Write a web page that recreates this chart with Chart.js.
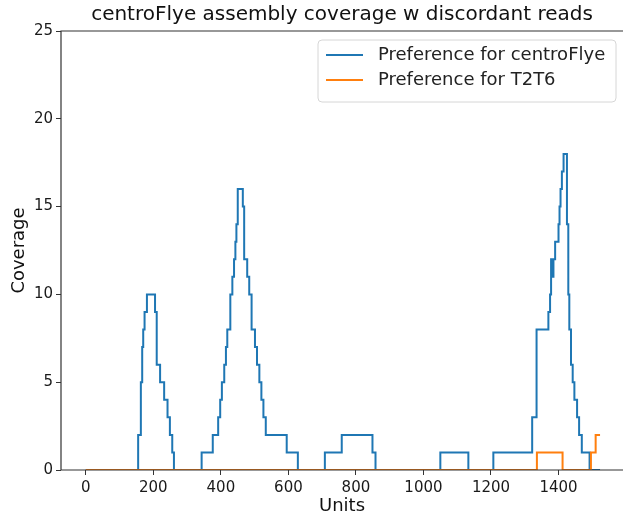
<!DOCTYPE html>
<html lang="en">
<head>
<meta charset="UTF-8" />
<title>centroFlye assembly coverage w discordant reads</title>
<script src="https://cdn.jsdelivr.net/npm/chart.js"></script>
<style>
  html, body { margin: 0; padding: 0; background: #fff; }
  canvas { display: block; }
</style>
</head>
<body>
<canvas id="cov" width="623" height="521"></canvas>
<script>
// step positions (units) and coverage that holds from that position on
const centroFlyeX = [0, 155, 163, 167, 170, 174, 181, 205, 210, 220, 232, 242, 249, 256, 261,
  343, 376, 392, 398, 403, 410, 415, 419, 428, 434, 439, 443, 446, 450, 465, 469, 478, 484, 491,
  501, 507, 514, 520, 526, 533, 595, 628,
  708, 758, 849, 858, 1050, 1133, 1207,
  1322, 1335, 1370, 1375, 1378, 1382, 1385, 1390, 1400, 1403, 1406, 1410, 1415, 1425, 1429,
  1432, 1437, 1442, 1447, 1455, 1461, 1469, 1492, 1523];
const centroFlyeCov = [0, 2, 5, 7, 8, 9, 10, 9, 6, 5, 4, 3, 2, 1, 0,
  1, 2, 3, 4, 5, 6, 7, 8, 10, 11, 12, 13, 14, 16, 15, 12, 11, 10, 8,
  7, 6, 5, 4, 3, 2, 1, 0,
  1, 2, 1, 0, 1, 0, 1,
  3, 8, 9, 10, 12, 11, 12, 13, 14, 15, 16, 17, 18, 14, 10,
  8, 6, 5, 4, 3, 2, 1, 0, 0];

const t2t6X = [0, 1336, 1412, 1496, 1510, 1523];
const t2t6Cov = [0, 1, 0, 1, 2, 2];

const xTicks = [0, 200, 400, 600, 800, 1000, 1200, 1400];
const yTicks = [0, 5, 10, 15, 20, 25];

const seriesNames = ["Preference for centroFlye", "Preference for T2T6"];
const seriesColors = ["#1f77b4", "#ff7f0e"];

const toPoints = (xs, ys) => xs.map((x, i) => ({ x: x, y: ys[i] }));

const FONT = "'DejaVu Sans', sans-serif";

// matplotlib style frame + legend, drawn on top of the lines
const framePlugin = {
  id: "frame",
  afterDatasetsDraw(chart) {
    const { ctx, chartArea: a } = chart;
    ctx.save();
    ctx.strokeStyle = "#333";
    ctx.lineWidth = 1.2;
    ctx.beginPath();
    ctx.moveTo(a.left, a.bottom);
    ctx.lineTo(a.right, a.bottom);
    ctx.moveTo(a.left, a.bottom);
    ctx.lineTo(a.left, a.top);
    ctx.lineTo(a.right, a.top);
    ctx.stroke();
    ctx.restore();
  },
  afterDraw(chart) {
    const ctx = chart.ctx;
    const bx = 318, by = 40, bw = 298, bh = 62, r = 4;
    ctx.save();
    ctx.beginPath();
    ctx.roundRect(bx, by, bw, bh, r);
    ctx.fillStyle = "rgba(255,255,255,0.85)";
    ctx.fill();
    ctx.strokeStyle = "#d6d6d6";
    ctx.lineWidth = 1;
    ctx.stroke();
    ctx.font = "18px " + FONT;
    ctx.textBaseline = "middle";
    ctx.fillStyle = "#222";
    seriesNames.forEach((name, i) => {
      const y = 55 + i * 25;
      ctx.strokeStyle = seriesColors[i];
      ctx.lineWidth = 2;
      ctx.beginPath();
      ctx.moveTo(326, y);
      ctx.lineTo(363, y);
      ctx.stroke();
      ctx.fillText(name, 378, y);
    });
    ctx.restore();
  }
};

new Chart(document.getElementById("cov"), {
  type: "line",
  data: {
    datasets: [
      {
        label: seriesNames[0],
        data: toPoints(centroFlyeX, centroFlyeCov),
        borderColor: seriesColors[0],
        borderWidth: 2,
        stepped: "before",
        pointRadius: 0,
        order: 1
      },
      {
        label: seriesNames[1],
        data: toPoints(t2t6X, t2t6Cov),
        borderColor: seriesColors[1],
        borderWidth: 2,
        stepped: "before",
        pointRadius: 0,
        order: 0
      }
    ]
  },
  options: {
    responsive: false,
    animation: false,
    layout: { padding: 0 },
    plugins: {
      legend: { display: false },
      tooltip: { enabled: false },
      title: {
        display: true,
        fullSize: false,
        text: "centroFlye assembly coverage w discordant reads",
        color: "#111",
        font: { family: FONT, size: 20, weight: "normal" },
        padding: { top: 3, bottom: 4 }
      }
    },
    scales: {
      x: {
        type: "linear",
        min: -73.5,
        max: 1591,
        afterBuildTicks: (s) => { s.ticks = xTicks.map(v => ({ value: v })); },
        afterFit: (s) => { s.height = 51; },
        grid: { drawOnChartArea: false, drawTicks: true, tickLength: 5, color: "#333" },
        border: { display: false },
        ticks: {
          color: "#1a1a1a", padding: 4, maxRotation: 0,
          font: { family: FONT, size: 15 },
          callback: (v) => String(v)
        },
        title: {
          display: true, text: "Units", color: "#111",
          font: { family: FONT, size: 18 }, padding: { top: 0, bottom: 4 }
        }
      },
      y: {
        min: 0,
        max: 25,
        afterBuildTicks: (s) => { s.ticks = yTicks.map(v => ({ value: v })); },
        afterFit: (s) => { s.width = 61; },
        grid: { drawOnChartArea: false, drawTicks: true, tickLength: 5, color: "#333" },
        border: { display: false },
        ticks: { color: "#1a1a1a", padding: 3, font: { family: FONT, size: 15 } },
        title: {
          display: true, text: "Coverage", color: "#111",
          font: { family: FONT, size: 18 }, padding: { top: 9, bottom: 0 }
        }
      }
    }
  },
  plugins: [framePlugin]
});
</script>
</body>
</html>
